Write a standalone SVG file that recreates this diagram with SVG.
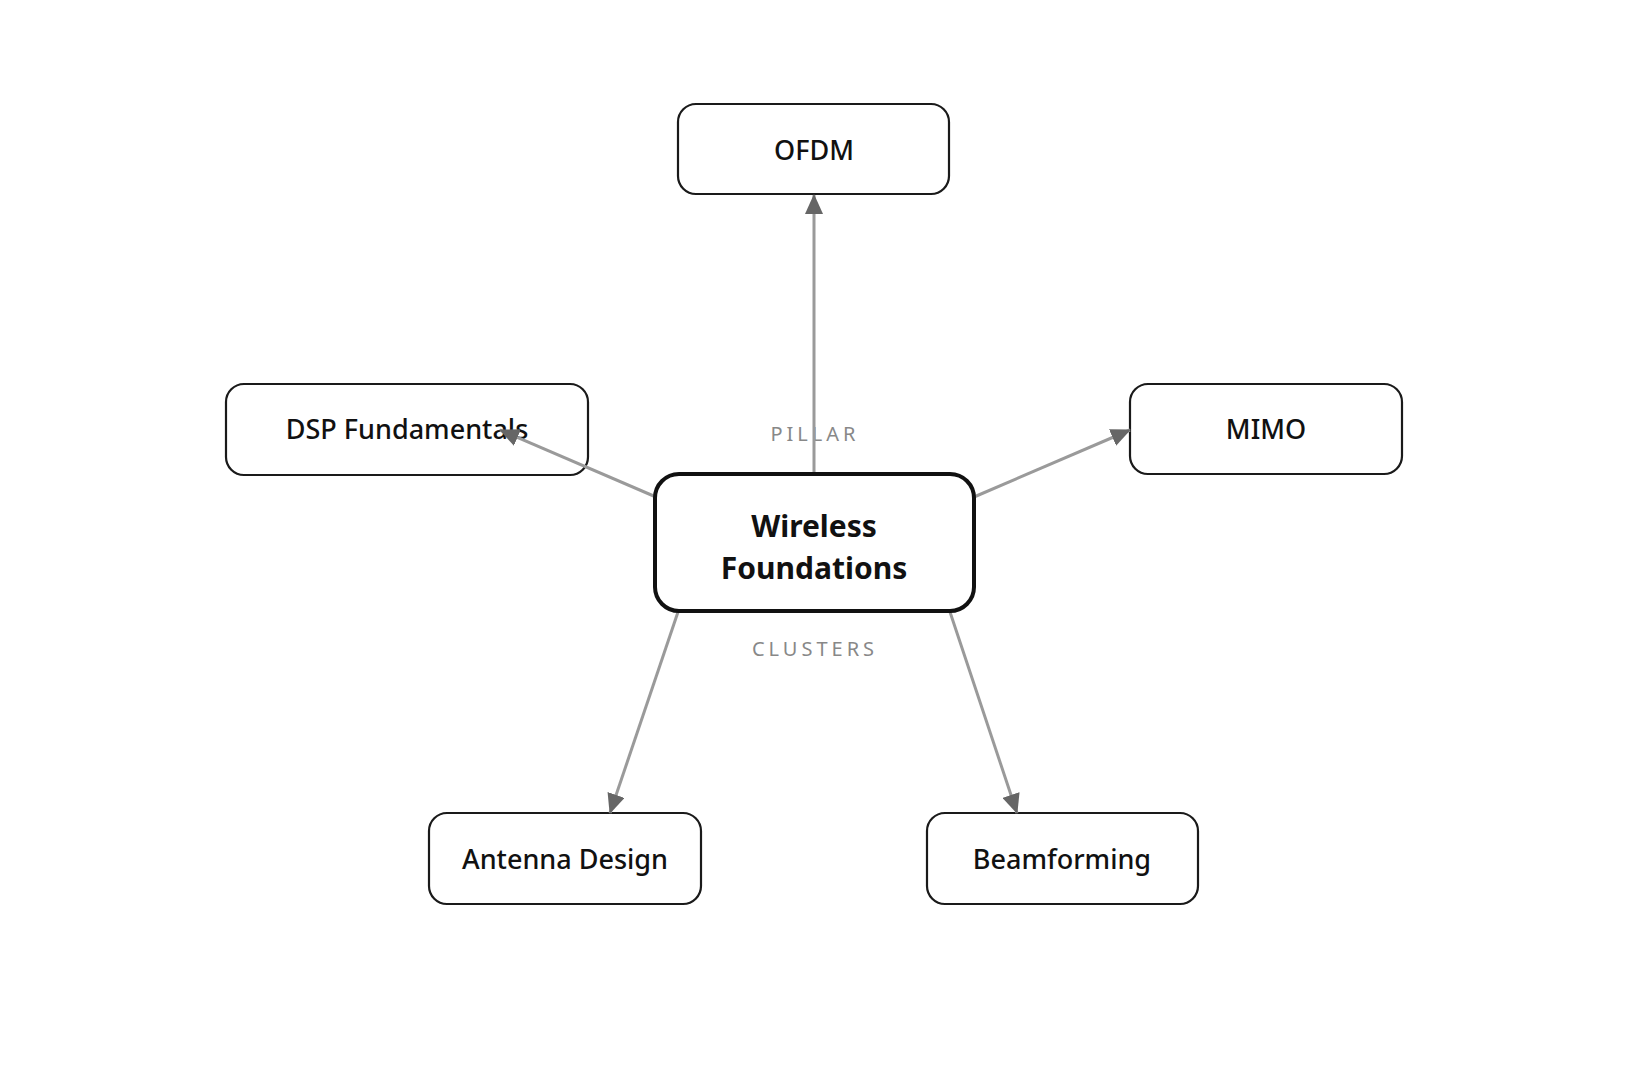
<svg xmlns="http://www.w3.org/2000/svg" width="1628" height="1086" viewBox="0 0 1628 1086">
<style>
.node rect{fill:#fff;stroke:#1a1a1a;stroke-width:2.2}
.node text{font-family:"Noto Sans","Open Sans",sans-serif;font-size:27px;font-weight:500;fill:#111;text-anchor:middle}
.hub rect{fill:#fff;stroke:#111;stroke-width:4}
.hub text{font-family:"Noto Sans","Open Sans",sans-serif;font-size:30px;font-weight:bold;fill:#111;text-anchor:middle}
.edge{stroke:#9a9a9a;stroke-width:3;fill:none;marker-end:url(#arr)}
.lbl{font-family:"Noto Sans","Open Sans",sans-serif;font-size:20px;fill:#888;letter-spacing:4px;text-anchor:middle}
</style>
<defs>
<marker id="arr" markerUnits="userSpaceOnUse" markerWidth="20" markerHeight="18" viewBox="0 0 20 18" refX="19" refY="9" orient="auto">
<path d="M0,0 L20,9 L0,18 Z" fill="#666"/>
</marker>
</defs>
<rect width="1628" height="1086" fill="#fff"/>
<text class="lbl" x="815" y="441">PILLAR</text>
<text class="lbl" x="815" y="656">CLUSTERS</text>
<g id="ofdm" class="node"><rect x="678" y="104" width="271" height="90" rx="18"/><text x="814" y="160">OFDM</text></g>
<g id="dsp" class="node"><rect x="226" y="384" width="362" height="91" rx="18"/><text x="407" y="439">DSP Fundamentals</text></g>
<g id="mimo" class="node"><rect x="1130" y="384" width="272" height="90" rx="18"/><text x="1266" y="439">MIMO</text></g>
<g id="antenna" class="node"><rect x="429" y="813" width="272" height="91" rx="18"/><text x="565" y="869">Antenna Design</text></g>
<g id="beam" class="node"><rect x="927" y="813" width="271" height="91" rx="18"/><text x="1062" y="869">Beamforming</text></g>
<g id="connectors">
<line class="edge" x1="814" y1="474" x2="814" y2="195"/>
<line class="edge" x1="656" y1="497" x2="500" y2="430"/>
<line class="edge" x1="974" y1="497" x2="1130" y2="430"/>
<line class="edge" x1="678" y1="612" x2="610" y2="813"/>
<line class="edge" x1="950" y1="612" x2="1017" y2="813"/>
</g>
<g id="hub" class="hub"><rect x="655" y="474" width="319" height="137" rx="24"/><text x="814" y="537">Wireless</text><text x="814" y="579">Foundations</text></g>
</svg>
